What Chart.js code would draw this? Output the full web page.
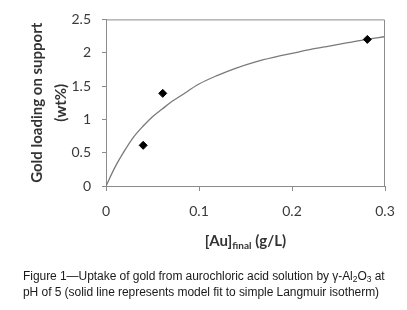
<!DOCTYPE html>
<html>
<head>
<meta charset="utf-8">
<script src="https://cdn.jsdelivr.net/npm/chart.js@4/dist/chart.umd.min.js"></script>
<style>
  html, body { margin: 0; padding: 0; background: #fff; }
  #wrap { position: relative; width: 407px; height: 310px; overflow: hidden; }
  #chartBox { position: absolute; left: 0; top: 0; width: 407px; height: 310px; }
  #xtitle { position: absolute; left: 0; width: 407px; top: 231px; text-align: center; padding-left: 84px; box-sizing: border-box;
    font-family: Lato, "Open Sans", sans-serif; font-weight: bold; font-size: 15px; color: #333; white-space: nowrap; }
  #xtitle sub { font-size: 10px; vertical-align: -3px; }
  #caption { position: absolute; left: 23px; top: 268px; width: 384px; font-family: "Liberation Sans", Arial, sans-serif;
    font-size: 12px; line-height: 16px; color: #1a1a1a; white-space: nowrap; letter-spacing: -0.05px; }
  #caption sub { font-size: 8.5px; vertical-align: -2px; line-height: 0; }
</style>
</head>
<body>
<div id="wrap">
  <div id="chartBox"><canvas id="c"></canvas></div>
  <div id="xtitle">[Au]<sub>final</sub> (g/L)</div>
  <div id="caption">Figure 1—Uptake of gold from aurochloric acid solution by γ-Al<sub>2</sub>O<sub>3</sub> at<br>pH of 5 (solid line represents model fit to simple Langmuir isotherm)</div>
</div>
<script>
// Measured data points
const auFinal = [0.04, 0.061, 0.281];
const goldLoading = [0.61, 1.39, 2.20];

// Model (Langmuir) curve
const fitX = [0, 0.01, 0.02, 0.03, 0.04, 0.05, 0.06, 0.07, 0.08, 0.10, 0.12, 0.14, 0.16, 0.18, 0.20, 0.22, 0.24, 0.26, 0.28, 0.30];
const fitY = [0, 0.29, 0.53, 0.74, 0.90, 1.04, 1.15, 1.26, 1.35, 1.53, 1.66, 1.77, 1.86, 1.93, 1.99, 2.05, 2.10, 2.15, 2.20, 2.24];

// Tick labels
const xTickLabels = ['0', '0.1', '0.2', '0.3'];
const yTickLabels = ['0', '0.5', '1', '1.5', '2', '2.5'];

const yTitle = ['Gold loading on support', '(wt%)'];

const boxPlugin = {
  id: 'box',
  afterDatasetsDraw(chart) {
    const {ctx, chartArea: a} = chart;
    ctx.save();
    ctx.strokeStyle = '#8c8c8c';
    ctx.lineWidth = 1;
    ctx.beginPath();
    ctx.moveTo(a.left, a.top + 0.5);
    ctx.lineTo(a.right - 0.5, a.top + 0.5);
    ctx.lineTo(a.right - 0.5, a.bottom);
    ctx.stroke();
    ctx.restore();
  }
};

new Chart(document.getElementById('c'), {
  type: 'scatter',
  data: {
    datasets: [
      {
        label: 'Model fit',
        data: fitX.map((x, i) => ({x, y: fitY[i]})),
        showLine: true,
        borderColor: '#7a7a7a',
        borderWidth: 1.3,
        pointRadius: 0,
        cubicInterpolationMode: 'monotone',
        order: 2
      },
      {
        label: 'Measured',
        data: auFinal.map((x, i) => ({x, y: goldLoading[i]})),
        showLine: false,
        pointStyle: 'rectRot',
        pointRadius: 4,
        backgroundColor: '#000',
        borderColor: '#000',
        borderWidth: 1,
        order: 1
      }
    ]
  },
  options: {
    responsive: true,
    maintainAspectRatio: false,
    animation: false,
    devicePixelRatio: 1,
    layout: { padding: { left: 0, right: 22, top: 16, bottom: 0 } },
    plugins: { legend: { display: false }, tooltip: { enabled: false } },
    scales: {
      x: {
        type: 'linear',
        min: 0, max: 0.3,
        ticks: {
          stepSize: 0.1,
          color: '#3a3a3a',
          font: { family: 'Lato, "Open Sans", sans-serif', size: 14 },
          padding: 12,
          maxRotation: 0,
          callback: (v) => { const i = Math.round(v * 10); return xTickLabels[i] ?? ''; }
        },
        grid: { drawOnChartArea: false, drawTicks: true, tickLength: 5, color: '#8c8c8c' },
        border: { color: '#8c8c8c', width: 1 },
        afterFit: (s) => { s.height = 124; }
      },
      y: {
        type: 'linear',
        min: 0, max: 2.5,
        ticks: {
          stepSize: 0.5,
          color: '#3a3a3a',
          font: { family: 'Lato, "Open Sans", sans-serif', size: 14 },
          padding: 11,
          callback: (v) => { const i = Math.round(v * 2); return yTickLabels[i] ?? ''; }
        },
        grid: { drawOnChartArea: false, drawTicks: true, tickLength: 4, color: '#8c8c8c' },
        border: { color: '#8c8c8c', width: 1 },
        title: {
          display: true,
          text: yTitle,
          color: '#333',
          font: { family: 'Lato, "Open Sans", sans-serif', size: 15, weight: 'bold', lineHeight: 1.55 },
          padding: { top: 26, bottom: 0 }
        },
        afterFit: (s) => { s.width = 106; }
      }
    }
  },
  plugins: [boxPlugin]
});
</script>
</body>
</html>
